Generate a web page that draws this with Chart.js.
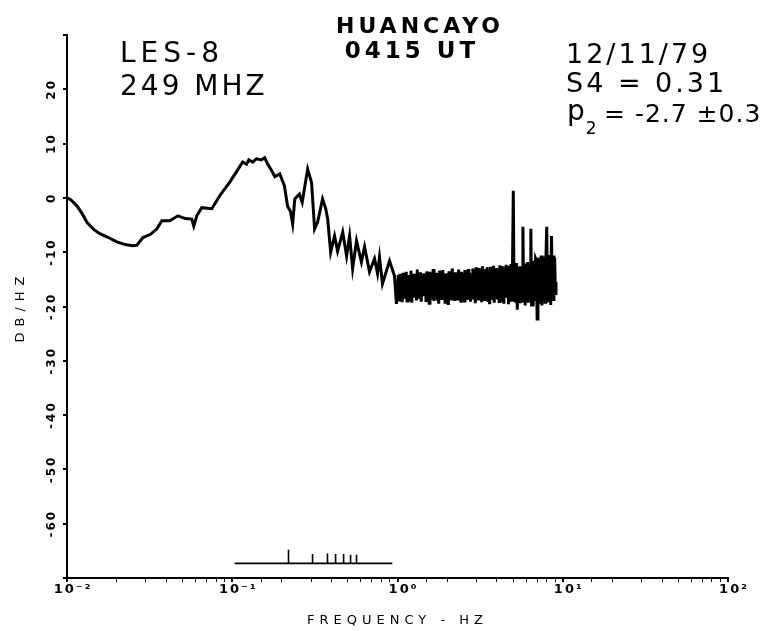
<!DOCTYPE html>
<html>
<head>
<meta charset="utf-8">
<script src="https://cdn.jsdelivr.net/npm/chart.js@4.4.1/dist/chart.umd.min.js"></script>
<style>
  html, body { margin: 0; padding: 0; background: #fff; }
  #wrap { position: relative; width: 775px; height: 631px; }
</style>
</head>
<body>
<div id="wrap"><canvas id="spectrum"></canvas></div>
<script>
// smooth part of the spectrum, 0.01 - 1 Hz
const lowFreq = [0.0100, 0.0105, 0.0115, 0.0123, 0.0132, 0.0145, 0.0158, 0.0178, 0.0200, 0.0225,
  0.0250, 0.0265, 0.0288, 0.0320, 0.0350, 0.0375, 0.0419, 0.0469, 0.0520, 0.0569,
  0.0585, 0.0610, 0.0654, 0.0752, 0.0840, 0.0966, 0.106, 0.1156, 0.122, 0.126,
  0.133, 0.140, 0.150, 0.157, 0.164, 0.172, 0.181, 0.194, 0.207, 0.216,
  0.225, 0.232, 0.239, 0.255, 0.265, 0.286, 0.302, 0.315, 0.329, 0.352,
  0.368, 0.378, 0.394, 0.416, 0.434, 0.466, 0.492, 0.513, 0.535, 0.565,
  0.605, 0.632, 0.677, 0.726, 0.757, 0.778, 0.811, 0.895, 0.959, 0.985];
const lowDb = [0.0, -0.3, -1.5, -2.8, -4.5, -5.8, -6.6, -7.3, -8.1, -8.6,
  -8.8, -8.7, -7.3, -6.7, -5.7, -4.2, -4.2, -3.3, -3.8, -3.9,
  -5.2, -3.3, -1.8, -2.0, 0.4, 2.9, 4.8, 6.6, 6.2, 7.0,
  6.6, 7.2, 7.0, 7.4, 6.2, 5.2, 3.9, 4.4, 2.2, -1.5,
  -2.5, -4.8, -0.2, 0.7, -0.8, 5.3, 2.8, -5.7, -4.4, -0.2,
  -2.0, -3.9, -10.0, -7.0, -9.8, -6.3, -10.7, -7.0, -13.0, -7.9,
  -11.8, -9.0, -13.6, -11.2, -13.9, -10.9, -15.8, -11.6, -14.4, -19.5];

// noisy band, 1 - 9 Hz, with the spikes near 5, 5.7, 6.4, 8 and 8.6 Hz
const bandFreq = [1.00, 1.011, 1.022, 1.033, 1.045, 1.057, 1.068, 1.080, 1.092, 1.104,
  1.117, 1.129, 1.142, 1.155, 1.167, 1.180, 1.193, 1.206, 1.220, 1.234,
  1.247, 1.261, 1.275, 1.289, 1.303, 1.317, 1.332, 1.347, 1.362, 1.377,
  1.393, 1.408, 1.424, 1.440, 1.456, 1.472, 1.488, 1.505, 1.521, 1.538,
  1.555, 1.572, 1.590, 1.608, 1.626, 1.644, 1.662, 1.680, 1.699, 1.718,
  1.738, 1.757, 1.776, 1.796, 1.816, 1.836, 1.857, 1.878, 1.898, 1.919,
  1.941, 1.963, 1.984, 2.006, 2.029, 2.052, 2.074, 2.097, 2.120, 2.144,
  2.168, 2.192, 2.216, 2.241, 2.266, 2.291, 2.317, 2.343, 2.369, 2.395,
  2.421, 2.448, 2.476, 2.504, 2.531, 2.559, 2.588, 2.617, 2.646, 2.675,
  2.705, 2.735, 2.765, 2.796, 2.827, 2.858, 2.891, 2.923, 2.955, 2.988,
  3.020, 3.054, 3.090, 3.124, 3.160, 3.195, 3.230, 3.266, 3.300, 3.337,
  3.380, 3.418, 3.450, 3.488, 3.530, 3.569, 3.610, 3.650, 3.690, 3.731,
  3.770, 3.812, 3.850, 3.893, 3.940, 3.984, 4.030, 4.075, 4.120, 4.166,
  4.210, 4.257, 4.300, 4.348, 4.400, 4.449, 4.500, 4.550, 4.600, 4.651,
  4.700, 4.752, 4.810, 4.863, 4.910, 4.965, 5.020, 5.076, 5.140, 5.197,
  5.250, 5.308, 5.370, 5.430, 5.490, 5.551, 5.610, 5.672, 5.740, 5.804,
  5.860, 5.925, 6.000, 6.067, 6.130, 6.198, 6.270, 6.340, 6.410, 6.481,
  6.550, 6.623, 6.700, 6.774, 6.850, 6.926, 7.000, 7.078, 7.160, 7.239,
  7.320, 7.401, 7.480, 7.563, 7.650, 7.735, 7.820, 7.907, 8.000, 8.089,
  8.180, 8.271, 8.360, 8.453, 8.550, 8.645, 8.740, 8.837, 8.930, 9.029,
  9.100];
const bandDb = [-17.5, -14.2, -18.8, -14.0, -18.2, -14.6, -19.2, -13.8, -17.6, -14.4,
  -18.6, -13.6, -19.0, -14.8, -18.0, -14.2, -18.8, -13.4, -19.3, -14.6,
  -17.8, -14.0, -18.4, -14.9, -18.9, -13.2, -17.9, -14.3, -18.6, -13.7,
  -19.1, -14.5, -18.1, -13.9, -17.7, -14.8, -18.9, -13.5, -18.3, -14.1,
  -19.4, -13.6, -18.0, -14.6, -18.7, -13.1, -19.0, -14.2, -17.9, -13.8,
  -18.6, -14.7, -19.5, -13.4, -18.2, -14.0, -18.8, -13.3, -17.7, -14.5,
  -19.2, -13.9, -18.4, -14.8, -19.7, -13.5, -18.1, -14.2, -18.9, -13.0,
  -18.3, -14.4, -19.0, -13.7, -18.6, -14.1, -17.8, -13.2, -18.9, -14.6,
  -19.3, -13.6, -18.5, -14.0, -19.0, -13.3, -18.2, -14.4, -18.8, -13.1,
  -17.9, -13.8, -19.1, -14.3, -18.4, -13.0, -18.7, -13.9, -19.4, -12.8,
  -18.2, -13.5, -18.9, -12.9, -17.8, -13.7, -19.2, -12.6, -18.5, -13.4,
  -19.0, -13.1, -18.3, -12.8, -18.9, -13.6, -19.6, -12.7, -18.1, -13.3,
  -18.8, -12.5, -19.3, -13.0, -18.0, -12.9, -18.7, -13.4, -19.1, -12.4,
  -18.2, -13.2, -18.9, -12.6, -19.5, -13.0, -18.4, -12.3, -17.9, -12.9,
  -19.6, -12.5, -18.6, -12.2, -19.1, -12.8, 1.3, -18.8, -12.4, -19.3,
  -12.0, -20.6, -12.6, -18.7, -13.0, -19.4, -12.6, -19.0, -5.3, -18.9,
  -12.5, -19.8, -12.1, -18.8, -11.8, -19.3, -12.4, -18.6, -5.7, -20.0,
  -12.0, -20.0, -11.6, -19.0, -11.2, -11.6, -22.3, -11.0, -19.5, -11.4,
  -18.7, -10.6, -19.8, -11.0, -18.5, -10.8, -19.2, -11.2, -5.3, -19.2,
  -10.5, -18.6, -11.0, -19.7, -7.0, -18.0, -10.6, -19.0, -11.0, -17.6,
  -15.5];

// marker line under the curve (0.1 - 1 Hz) with its small spikes
const markFreq = [0.219, 0.306, 0.377, 0.422, 0.472, 0.520, 0.565];
const markTop = [-64.8, -65.6, -65.5, -65.6, -65.6, -65.7, -65.7];
const markSpan = [0.1035, 0.93];
const markBase = -67.3;

const xTickValues = [0.01, 0.1, 1, 10, 100];
const xTickLabels = ['10⁻²', '10⁻¹', '10⁰', '10¹', '10²'];
const yTickValues = [-60, -50, -40, -30, -20, -10, 0, 10, 20];

const spectrum = lowFreq.map((f, i) => ({x: f, y: lowDb[i]}))
  .concat(bandFreq.map((f, i) => ({x: f, y: bandDb[i]})));

const marker = [{x: markSpan[0], y: markBase}];
markFreq.forEach((f, i) => {
  marker.push({x: f, y: markBase}, {x: f, y: markTop[i]}, {x: f, y: markBase});
});
marker.push({x: markSpan[1], y: markBase});

const FONT = '"DejaVu Sans", sans-serif';

// wide lettering like the original plot
const spacing = {
  id: 'spacing',
  beforeUpdate(chart) { chart.ctx.letterSpacing = '2px'; },
  beforeDraw(chart) {
    chart.ctx.letterSpacing = '2px';
    Object.values(chart.scales).forEach(s => {
      if (s._spaced) return;
      const orig = s.drawTitle.bind(s);
      const sp = s.axis === 'x' ? '5px' : '6px';
      s.drawTitle = () => {
        const c = s.ctx;
        const prev = c.letterSpacing;
        c.letterSpacing = sp;
        orig();
        c.letterSpacing = prev;
      };
      s._spaced = true;
    });
  }
};

const notes = {
  id: 'notes',
  afterDraw(chart) {
    const c = chart.ctx;
    c.save();
    c.fillStyle = '#000';
    c.textBaseline = 'alphabetic';
    const put = (txt, x, y, font, sp, align) => {
      c.font = font + ' ' + FONT;
      c.letterSpacing = sp + 'px';
      c.textAlign = align || 'left';
      c.fillText(txt, x, y);
      return c.measureText(txt).width;
    };
    put('HUANCAYO', 420, 33, 'bold 22px', 4, 'center');
    put('0415 UT', 412, 58, 'bold 23px', 4, 'center');
    put('LES-8', 120, 62, '28px', 5);
    put('249 MHZ', 120, 95, '28px', 3);
    put('12/11/79', 566, 63, '27px', 3);
    put('S4 = 0.31', 566, 92, '27px', 3);
    const w = put('p', 567, 120, '28px', 0);
    put('2', 567 + w + 1, 134, '17px', 0);
    put('= -2.7 ±0.3', 604, 122, '25px', 1);
    c.restore();
  }
};

new Chart(document.getElementById('spectrum'), {
  type: 'line',
  data: {
    datasets: [
      { data: spectrum, borderColor: '#000', borderWidth: 3, pointRadius: 0, tension: 0 },
      { data: marker, borderColor: '#000', borderWidth: 1.6, pointRadius: 0, tension: 0 }
    ]
  },
  options: {
    responsive: true,
    maintainAspectRatio: false,
    animation: false,
    layout: { padding: { left: 0, top: 35, right: 47, bottom: 0 } },
    plugins: { legend: { display: false }, tooltip: { enabled: false } },
    scales: {
      x: {
        type: 'logarithmic',
        min: 0.01,
        max: 100,
        border: { display: true, color: '#000', width: 2 },
        grid: {
          drawOnChartArea: false,
          drawTicks: true,
          tickLength: 4,
          color: '#000',
          lineWidth: ctx => xTickValues.some(v => Math.abs(ctx.tick.value - v) / v < 1e-6) ? 2 : 1
        },
        ticks: {
          autoSkip: false,
          minRotation: 0,
          maxRotation: 0,
          align: 'center',
          labelOffset: 6,
          padding: 0,
          color: '#000',
          font: { family: FONT, size: 13, weight: 'bold' },
          callback: value => {
            const i = xTickValues.findIndex(v => Math.abs(value - v) / v < 1e-6);
            return i >= 0 ? xTickLabels[i] : '';
          }
        },
        title: {
          display: true,
          text: 'FREQUENCY - HZ',
          color: '#000',
          font: { family: FONT, size: 13 },
          padding: { top: 0, bottom: 3 }
        },
        afterFit: s => { s.height = 53; }
      },
      y: {
        min: -70,
        max: 30,
        border: { display: true, color: '#000', width: 2 },
        grid: { drawOnChartArea: false, drawTicks: true, tickLength: 4, color: '#000', lineWidth: 2 },
        ticks: {
          stepSize: 10,
          minRotation: 90,
          maxRotation: 90,
          crossAlign: 'center',
          padding: -3,
          color: '#000',
          font: { family: FONT, size: 12, weight: 'bold' },
          callback: value => yTickValues.includes(value) ? String(value) : ''
        },
        title: {
          display: true,
          text: 'DB/HZ',
          color: '#000',
          font: { family: FONT, size: 13 },
          padding: { top: 13, bottom: 0 }
        },
        afterFit: s => { s.width = 67; }
      }
    }
  },
  plugins: [spacing, notes]
});
</script>
</body>
</html>
